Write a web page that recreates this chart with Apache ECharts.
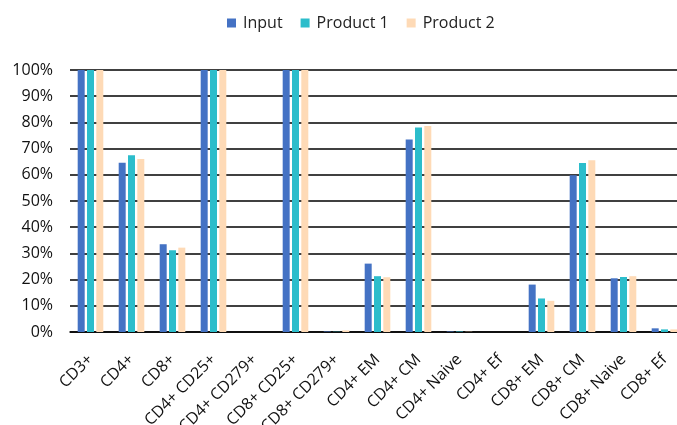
<!DOCTYPE html>
<html>
<head>
<meta charset="utf-8">
<script src="https://cdn.jsdelivr.net/npm/echarts@6/dist/echarts.min.js"></script>
<style>
  html, body { margin: 0; padding: 0; background: #fff; }
  #chart { width: 677px; height: 425px; }
</style>
</head>
<body>
<div id="chart"></div>
<script>
// Cell populations
const categories = [
  'CD3+', 'CD4+', 'CD8+', 'CD4+ CD25+', 'CD4+ CD279+', 'CD8+ CD25+', 'CD8+ CD279+',
  'CD4+ EM', 'CD4+ CM', 'CD4+ Naive', 'CD4+ Ef', 'CD8+ EM', 'CD8+ CM', 'CD8+ Naive', 'CD8+ Ef'
];

// Percent of cells per population
const inputValues    = [100, 64.6, 33.5, 100, 0, 100, 0.2, 26.1, 73.5, 0.2, 0, 18.1, 59.8, 20.5, 1.4];
const product1Values = [100, 67.5, 31.2, 100, 0, 100, 0.1, 21.3, 78.1, 0.2, 0, 12.8, 64.5, 21.0, 1.0];
const product2Values = [100, 66.0, 32.2, 100, 0, 100, 0.6, 20.9, 78.6, 0.1, 0, 11.9, 65.6, 21.3, 1.0];

const seriesNames = ['Input', 'Product 1', 'Product 2'];
const colors = ['#4472C4', '#2CBDCB', '#FEDAB6'];

const FONT = 'Open Sans';
const chart = echarts.init(document.getElementById('chart'), null, { renderer: 'canvas' });

const barSeries = [inputValues, product1Values, product2Values].map((vals, i) => ({
  name: seriesNames[i],
  type: 'bar',
  data: vals,
  barWidth: 7,
  barGap: '33%',
  itemStyle: { color: colors[i] },
  emphasis: { disabled: true }
}));

chart.setOption({
  animation: false,
  color: colors,
  legend: {
    top: 10,
    left: 222,
    itemWidth: 9,
    itemHeight: 9,
    itemGap: 18,
    icon: 'rect',
    textStyle: { fontFamily: FONT, fontSize: 16, color: '#222', padding: [0, 0, 0, 2] },
    data: seriesNames
  },
  grid: {
    left: 70, right: -8, top: 70, bottom: 93,
    containLabel: false,
    outerBoundsMode: 'none'
  },
  xAxis: {
    type: 'category',
    data: categories,
    axisLine: { show: true, lineStyle: { color: '#000', width: 1.5 } },
    axisTick: { show: false },
    axisLabel: {
      interval: 0,
      rotate: 45,
      margin: 25,
      fontFamily: FONT,
      fontSize: 16,
      color: '#111'
    }
  },
  yAxis: {
    type: 'value',
    min: 0,
    max: 100,
    interval: 10,
    axisLine: { show: false },
    axisTick: { show: false },
    axisLabel: {
      margin: 17,
      fontFamily: FONT,
      fontSize: 16,
      color: '#111',
      formatter: v => v + '%'
    },
    splitLine: { lineStyle: { color: '#000', width: 1.5 } }
  },
  series: barSeries
});
</script>
</body>
</html>
